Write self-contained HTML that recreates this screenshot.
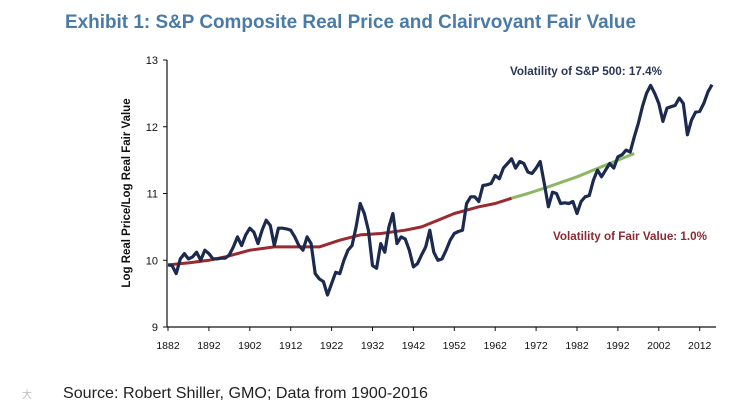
<!DOCTYPE html>
<html><head><meta charset="utf-8"><style>
body{margin:0;background:#fff;width:752px;height:408px;overflow:hidden;font-family:"Liberation Sans",sans-serif}
</style></head><body>
<svg width="752" height="408" xmlns="http://www.w3.org/2000/svg">
<text x="65" y="28" font-size="19" font-weight="bold" fill="#4a7ba6" textLength="571" lengthAdjust="spacingAndGlyphs">Exhibit 1: S&amp;P Composite Real Price and Clairvoyant Fair Value</text>
<text transform="translate(130,193) rotate(-90)" text-anchor="middle" font-size="11.5" font-weight="bold" fill="#111">Log Real Price/Log Real Fair Value</text>
<g id="axes"></g>
<g id="series"></g>
<text x="510" y="75" font-size="11.5" font-weight="bold" fill="#2a3555" textLength="152" lengthAdjust="spacingAndGlyphs">Volatility of S&amp;P 500:  17.4%</text>
<text x="553" y="240" font-size="11.5" font-weight="bold" fill="#8a2a33" textLength="154" lengthAdjust="spacingAndGlyphs">Volatility of Fair Value:  1.0%</text>
<text x="63" y="398" font-size="16" fill="#222" textLength="365" lengthAdjust="spacingAndGlyphs">Source: Robert Shiller, GMO; Data from 1900-2016</text>
<text x="22" y="398" font-size="10" fill="#bbb">大</text>
</svg>
<script>
const yTicks=[9,10,11,12,13];
const xTickLabels=[1882,1892,1902,1912,1922,1932,1942,1952,1962,1972,1982,1992,2002,2012];
const priceStartYear=1882;
const priceValues=[9.93,9.92,9.80,10.02,10.10,10.02,10.05,10.12,10.00,10.15,10.10,10.02,10.02,10.03,10.03,10.08,10.20,10.35,10.22,10.38,10.48,10.42,10.25,10.45,10.60,10.52,10.22,10.48,10.48,10.47,10.45,10.35,10.22,10.15,10.35,10.25,9.80,9.72,9.68,9.48,9.65,9.82,9.80,10.00,10.15,10.22,10.50,10.85,10.70,10.45,9.92,9.88,10.25,10.12,10.50,10.70,10.25,10.35,10.32,10.15,9.90,9.95,10.08,10.20,10.45,10.12,10.00,10.02,10.15,10.30,10.40,10.43,10.45,10.85,10.95,10.95,10.88,11.12,11.13,11.15,11.27,11.22,11.38,11.45,11.52,11.38,11.48,11.45,11.32,11.30,11.38,11.48,11.15,10.80,11.02,11.00,10.85,10.86,10.85,10.88,10.70,10.88,10.95,10.97,11.20,11.35,11.25,11.35,11.45,11.38,11.55,11.58,11.65,11.62,11.85,12.05,12.30,12.50,12.62,12.50,12.35,12.08,12.28,12.30,12.32,12.43,12.35,11.88,12.10,12.22,12.23,12.35,12.52,12.63];
const fvYears=[1882,1887,1892,1896,1902,1908,1913,1919,1924,1929,1934,1940,1944,1948,1952,1958,1962,1966,1970,1975,1982,1988,1996];
const fvValues=[9.93,9.96,10.00,10.05,10.15,10.20,10.20,10.20,10.30,10.38,10.40,10.45,10.50,10.60,10.70,10.80,10.85,10.93,11.00,11.10,11.25,11.40,11.60];
const fvSplitYear=1966;

const X=y=>168+(y-1882)*4.09;
const Y=v=>60+(13-v)*66.75;
const NS="http://www.w3.org/2000/svg";
function mk(t,a,p){const e=document.createElementNS(NS,t);for(const k in a)e.setAttribute(k,a[k]);p.appendChild(e);return e;}
const ax=document.getElementById('axes'),se=document.getElementById('series');
const yl=mk('line',{x1:167,y1:Y(13),x2:167,y2:Y(9),stroke:'#111','stroke-width':1.2},ax);


const xl=mk('line',{x1:167,y1:Y(9),x2:716,y2:Y(9),stroke:'#111','stroke-width':1.2},ax);


yTicks.forEach(v=>{
  mk('line',{x1:163,x2:167,y1:Y(v),y2:Y(v),stroke:'#111'},ax);
  const t=mk('text',{x:158,y:Y(v)+4,'text-anchor':'end','font-size':11,fill:'#111'},ax);
  t.textContent=v;
  
  
});
xTickLabels.forEach(yr=>{
  mk('line',{x1:X(yr),x2:X(yr),y1:Y(9),y2:Y(9)+4,stroke:'#111'},ax);
  const t=mk('text',{x:X(yr),y:349,'text-anchor':'middle','font-size':10.5,fill:'#111'},ax);
  t.textContent=yr;
  
  
});
function path(pts){return pts.map((p,i)=>(i?'L':'M')+X(p[0]).toFixed(1)+','+Y(p[1]).toFixed(1)).join('');}
const red=[],green=[];
fvYears.forEach((y,i)=>{if(y<=fvSplitYear)red.push([y,fvValues[i]]);if(y>=fvSplitYear)green.push([y,fvValues[i]]);});
const r=mk('path',{d:path(red),fill:'none',stroke:'#9b2a30','stroke-width':3,'stroke-linejoin':'round'},se);


const g=mk('path',{d:path(green),fill:'none',stroke:'#8cb866','stroke-width':3,'stroke-linejoin':'round'},se);


const b=mk('path',{d:path(priceValues.map((v,i)=>[priceStartYear+i,v])),fill:'none',stroke:'#1b2a4e','stroke-width':3.2,'stroke-linejoin':'round'},se);


</script>
</body></html>
